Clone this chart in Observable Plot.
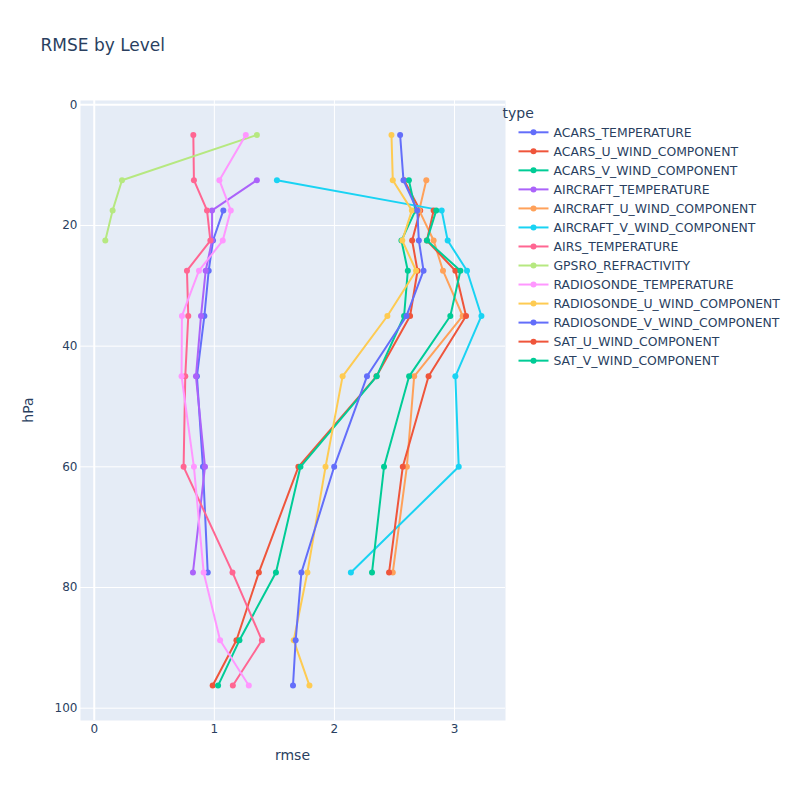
<!DOCTYPE html>
<html>
<head>
<meta charset="utf-8">
<script src="https://cdn.jsdelivr.net/npm/d3@7"></script>
<script src="https://cdn.jsdelivr.net/npm/@observablehq/plot@0.6"></script>
<style>
  html, body { margin: 0; padding: 0; background: #fff; }
  #chart svg { display: block; }
</style>
</head>
<body>
<div id="chart"></div>
<script>
// ---- data ----
const levels = [5, 12.5, 17.5, 22.5, 27.5, 35, 45, 60, 77.5, 88.75, 96.25];

const typeNames = [
  "ACARS_TEMPERATURE",
  "ACARS_U_WIND_COMPONENT",
  "ACARS_V_WIND_COMPONENT",
  "AIRCRAFT_TEMPERATURE",
  "AIRCRAFT_U_WIND_COMPONENT",
  "AIRCRAFT_V_WIND_COMPONENT",
  "AIRS_TEMPERATURE",
  "GPSRO_REFRACTIVITY",
  "RADIOSONDE_TEMPERATURE",
  "RADIOSONDE_U_WIND_COMPONENT",
  "RADIOSONDE_V_WIND_COMPONENT",
  "SAT_U_WIND_COMPONENT",
  "SAT_V_WIND_COMPONENT"
];

const acarsTemperature     = [null, null, 1.075, 0.989, 0.953, 0.917, 0.855, 0.905, 0.945, null, null];
const acarsUWind           = [null, 2.58, 2.714, 2.647, 2.692, 2.63, 2.35, 1.70, 1.371, 1.184, 0.986];
const acarsVWind           = [null, 2.62, 2.675, 2.558, 2.611, 2.580, 2.352, 1.717, 1.513, 1.209, 1.031];
const aircraftTemperature  = [null, 1.354, 0.981, 0.981, 0.928, 0.889, 0.847, 0.922, 0.822, null, null];
const aircraftUWind        = [null, 2.765, 2.706, 2.826, 2.904, 3.068, 2.664, 2.603, 2.486, null, null];
const aircraftVWind        = [null, 1.521, 2.893, 2.943, 3.104, 3.224, 3.007, 3.035, 2.137, null, null];
const airsTemperature      = [0.825, 0.830, 0.939, 0.967, 0.772, 0.783, 0.758, 0.744, 1.151, 1.396, 1.154];
const gpsroRefractivity    = [1.354, 0.231, 0.153, 0.092, null, null, null, null, null, null, null];
const radiosondeTemperature= [1.262, 1.042, 1.137, 1.070, 0.872, 0.730, 0.727, 0.830, 0.911, 1.048, 1.287];
const radiosondeUWind      = [2.475, 2.486, 2.645, 2.565, 2.68, 2.441, 2.068, 1.926, 1.775, 1.661, 1.792];
const radiosondeVWind      = [2.547, 2.575, 2.69, 2.703, 2.742, 2.60, 2.271, 1.998, 1.725, 1.677, 1.655];
const satUWind             = [null, null, 2.826, 2.77, 3.007, 3.096, 2.784, 2.569, 2.455, null, null];
const satVWind             = [null, null, 2.848, 2.770, 3.049, 2.965, 2.622, 2.413, 2.313, null, null];

const seriesValues = [
  acarsTemperature, acarsUWind, acarsVWind, aircraftTemperature, aircraftUWind,
  aircraftVWind, airsTemperature, gpsroRefractivity, radiosondeTemperature,
  radiosondeUWind, radiosondeVWind, satUWind, satVWind
];

const xTicks = [0, 1, 2, 3];
const yTicks = [0, 20, 40, 60, 80, 100];

// ---- styling ----
const palette = ["#636efa","#EF553B","#00cc96","#ab63fa","#FFA15A","#19d3f3","#FF6692","#B6E880","#FF97FF","#FECB52"];
const textColor = "#2a3f5f";
const W = 800, H = 800;
const mL = 80, mR = 295, mT = 100, mB = 80;

const series = typeNames.map((name, i) => ({
  name,
  color: palette[i % palette.length],
  rows: levels.map((lv, j) => ({type: name, level: lv, rmse: seriesValues[i][j]}))
              .filter(d => d.rmse != null)
}));

const marks = [
  Plot.frame({fill: "#e5ecf6", stroke: null}),
  Plot.gridX(xTicks.filter(t => t !== 0), {stroke: "white", strokeOpacity: 1, strokeWidth: 1}),
  Plot.gridY(yTicks.filter(t => t !== 0), {stroke: "white", strokeOpacity: 1, strokeWidth: 1}),
  Plot.ruleX([0], {stroke: "white", strokeWidth: 2}),
  Plot.ruleY([0], {stroke: "white", strokeWidth: 2}),
];
for (const s of series) {
  marks.push(Plot.line(s.rows, {x: "rmse", y: "level", stroke: s.color, strokeWidth: 2}));
  marks.push(Plot.dot(s.rows, {x: "rmse", y: "level", r: 3, fill: s.color, stroke: null}));
}
marks.push(Plot.axisX({ticks: xTicks, tickFormat: d3.format("d"), tickSize: 0, tickPadding: 4, label: null, fontSize: 12}));
marks.push(Plot.axisY({ticks: yTicks, tickFormat: d3.format("d"), tickSize: 0, tickPadding: 3, label: null, fontSize: 12}));

const chart = Plot.plot({
  width: W, height: H,
  marginLeft: mL, marginRight: mR, marginTop: mT, marginBottom: mB,
  style: {fontFamily: "'DejaVu Sans', verdana, arial, sans-serif", fontSize: "12px", color: textColor, background: "white", overflow: "visible"},
  x: {domain: [-0.1145, 3.4245]},
  y: {domain: [-0.71, 102.04], reverse: true},
  marks
});
document.getElementById("chart").appendChild(chart);

const svg = d3.select(chart);
// title
svg.append("text").attr("x", 40.5).attr("y", 51).attr("text-anchor", "start")
  .attr("fill", textColor).attr("font-size", 17).text("RMSE by Level");
// axis titles
svg.append("text").attr("x", (mL + W - mR) / 2).attr("y", 760)
  .attr("text-anchor", "middle").attr("fill", textColor).attr("font-size", 14).text("rmse");
svg.append("text").attr("transform", `translate(33,${(mT + H - mB) / 2}) rotate(-90)`)
  .attr("text-anchor", "middle").attr("fill", textColor).attr("font-size", 14).text("hPa");
// legend
const lg = svg.append("g").attr("font-size", 12.4).attr("fill", textColor).attr("text-anchor", "start");
lg.append("text").attr("x", 502.5).attr("y", 113).attr("dy", "0.35em").attr("font-size", 14).text("type");
series.forEach((s, i) => {
  const y = 132.3 + i * 19.03;
  lg.append("line").attr("x1", 518.5).attr("x2", 548.5).attr("y1", y).attr("y2", y)
    .attr("stroke", s.color).attr("stroke-width", 2);
  lg.append("circle").attr("cx", 533.5).attr("cy", y).attr("r", 3).attr("fill", s.color);
  lg.append("text").attr("x", 553.5).attr("y", y).attr("dy", "0.35em").text(s.name);
});
</script>
</body>
</html>
